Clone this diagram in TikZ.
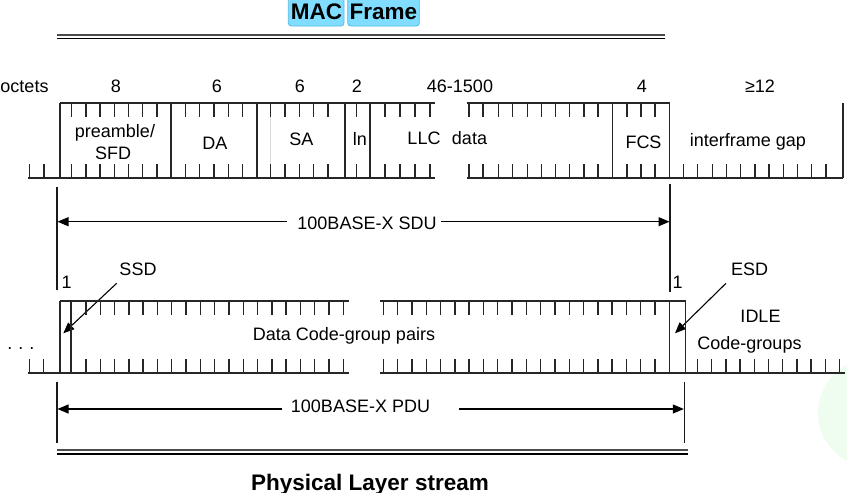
\documentclass[tikz,border=0pt]{standalone}
\usepackage{fontspec}
\setmainfont{Liberation Sans}
\usetikzlibrary{arrows.meta}
\definecolor{cyanfill}{HTML}{80DDFF}
\definecolor{cyanedge}{HTML}{55BBE6}
\definecolor{faintgreen}{HTML}{EFFCF0}
\begin{document}
\begin{tikzpicture}[x=1pt,y=-1pt,
  bar/.style={line width=1.5pt, draw=black!85},
  tickline/.style={line width=1.4pt, draw=black!85},
  lbl/.style={font=\fontsize{18}{21}\selectfont, inner sep=0pt, anchor=base, text=black},
  ttl/.style={font=\fontsize{22.5}{26}\selectfont\bfseries, inner sep=0pt, anchor=base, text=black},
  tagbox/.style={fill=cyanfill, draw=cyanedge, line width=0.8pt, rounded corners=3pt},
  dimline/.style={line width=1.2pt, draw=black!90},
  arr/.style={line width=1.1pt, draw=black, -{Triangle[length=11pt,width=9pt]}},
  thickrule/.style={line width=1.9pt, draw=black!70},
  thinrule/.style={line width=1.3pt, draw=black}
]
\useasboundingbox (0,0) rectangle (847,493);
% faint background circle
\fill[faintgreen] (872,413) circle (54);

% ---------- title ----------
\draw[tagbox] (288.3,-3) rectangle (344,26);
\draw[tagbox] (347.7,-3) rectangle (419.3,26);
\node[ttl] (mac) at (316.5,19.5) {MAC};
\node[ttl] (frame) at (383.5,19.5) {Frame};
\draw[thickrule] (57,34.7) -- (665,34.7);
\draw[thinrule] (57,38.6) -- (665,38.6);

% ---------- octet numbers ----------
\node[lbl] (oct) at (24.5,92) {octets};
\node[lbl] (n8) at (116,92) {8};
\node[lbl] (n6a) at (217,92) {6};
\node[lbl] (n6b) at (300,92) {6};
\node[lbl] (n2) at (357,92) {2};
\node[lbl] (n46) at (460,92) {46-1500};
\node[lbl] (n4) at (642,92) {4};
\node[lbl] (n12) at (760,92) {≥12};

% ---------- MAC frame bar ----------
\foreach \x in {71.6,85.8,100,114.2,128.4,142.6,156.8,185.3,199.6,213.9,228.2,242.5,270.4,284.8,299.2,313.6,328,356.5,385,400,415,430,469,483,498.5,512.7,527.3,541.7,555.7,569.5,584,598,627,641,655}
  {\draw[tickline] (\x,103) -- (\x,117); \draw[tickline] (\x,178) -- (\x,164);}
\foreach \x in {29.3,44,683.3,697.3,712.3,726.7,740.7,755,769,783.3,797.3,811.7,826}
  {\draw[tickline] (\x,178) -- (\x,164);}
\draw[black!15, line width=0.8pt] (270.4,117) -- (270.4,164);
\foreach \x in {60,171,257,345,370,612.7,669.5,843}
  {\draw[bar] (\x,103) -- (\x,178);}
\draw[bar] (60,103) -- (435,103);
\draw[bar] (467,103) -- (670,103);
\draw[bar] (28,178) -- (435,178);
\draw[bar] (467,178) -- (843,178);

\node[lbl] (pre) at (115,137.5) {preamble/};
\node[lbl] (sfd) at (113,159) {SFD};
\node[lbl] (da) at (215,149) {DA};
\node[lbl] (sa) at (301.3,145.5) {SA};
\node[lbl] (ln) at (360,145.5) {ln};
\node[lbl] (llc) at (424,144) {LLC};
\node[lbl] (data) at (469.5,144) {data};
\node[lbl] (fcs) at (643.5,148.3) {FCS};
\node[lbl] (ifg) at (748,146) {interframe gap};

% ---------- SDU dimension ----------
\coordinate (sduLtop) at (57,187);
\coordinate (sduLbot) at (57,290);
\coordinate (sduRtop) at (670,184);
\coordinate (sduRbot) at (670,292);
\draw[dimline] (sduLtop) -- (sduLbot);
\draw[dimline] (sduRtop) -- (sduRbot);
\node[lbl] (sdu) at (367,229) {100BASE-X SDU};
\coordinate (sduA) at (287,221.7);
\coordinate (sduAt) at (57.5,221.7);
\coordinate (sduB) at (441,221.7);
\coordinate (sduBt) at (669.5,221.7);
\draw[arr] (sduA) -- (sduAt);
\draw[arr] (sduB) -- (sduBt);

% ---------- SSD / ESD ----------
\node[lbl] (one1) at (66.7,288) {1};
\node[lbl] (one2) at (677.7,288) {1};
\node[lbl] (ssd) at (138,275) {SSD};
\node[lbl] (esd) at (749.7,275) {ESD};
\coordinate (ssdT) at (116.7,283.3);
\coordinate (ssdH) at (63.3,333.3);
\coordinate (esdT) at (726,283.3);
\coordinate (esdH) at (675,333.3);
\draw[arr] (ssdT) -- (ssdH);
\draw[arr] (esdT) -- (esdH);

% ---------- physical bar ----------
\foreach \k in {0,...,18}
  {\pgfmathsetmacro\xx{85.9+14.3*\k}
   \draw[tickline] (\xx,301) -- (\xx,315); \draw[tickline] (\xx,373) -- (\xx,359);}
\foreach \k in {0,...,19}
  {\pgfmathsetmacro\xx{383.3+14.3*\k}
   \draw[tickline] (\xx,301) -- (\xx,315); \draw[tickline] (\xx,373) -- (\xx,359);}
\foreach \x in {29.3,43.5}
  {\draw[tickline] (\x,373) -- (\x,359);}
\foreach \k in {0,...,10}
  {\pgfmathsetmacro\xx{697.5+14.2*\k}
   \draw[tickline] (\xx,373) -- (\xx,359);}
\foreach \x in {60,71,669.3,685.7}
  {\draw[bar] (\x,301) -- (\x,373);}
\draw[bar] (60,301) -- (349,301);
\draw[bar] (380,301) -- (686,301);
\draw[bar] (28,373) -- (349,373);
\draw[bar] (380,373) -- (845,373);

\node[lbl] (dots) at (21,349) {.\,\,.\,\,.};
\node[lbl] (dcg) at (344,340) {Data Code-group pairs};
\node[lbl] (idle) at (760.5,322.7) {IDLE};
\node[lbl] (cg) at (749.5,349) {Code-groups};

% ---------- PDU dimension ----------
\coordinate (pduLtop) at (57,381.7);
\coordinate (pduLbot) at (57,443.3);
\coordinate (pduRtop) at (684.3,382);
\coordinate (pduRbot) at (684.3,443.3);
\draw[dimline] (pduLtop) -- (pduLbot);
\draw[dimline] (pduRtop) -- (pduRbot);
\node[lbl] (pdu) at (360.5,412.7) {100BASE-X PDU};
\coordinate (pduA) at (282,409);
\coordinate (pduAt) at (57.5,409);
\coordinate (pduB) at (459,409);
\coordinate (pduBt) at (683.8,409);
\draw[arr] (pduA) -- (pduAt);
\draw[arr] (pduB) -- (pduBt);

\draw[thickrule] (57,450) -- (687.7,450);
\draw[thinrule] (57,453.9) -- (687.7,453.9);
\node[ttl] (phy) at (370,490.5) {Physical Layer stream};
\end{tikzpicture}
\end{document}
